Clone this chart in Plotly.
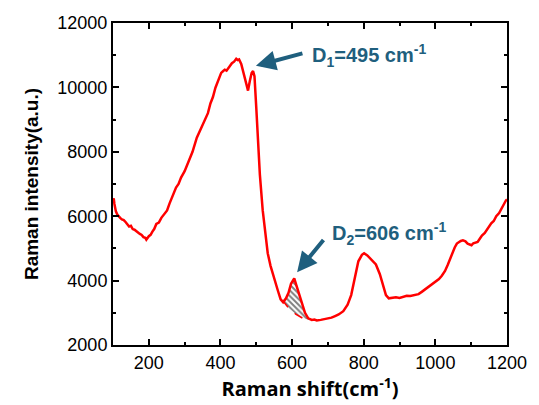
import plotly.graph_objects as go

# Spectrum
shift = [100, 102, 104, 108, 112, 115, 120, 125, 130, 135, 140, 145, 150, 155, 160, 165, 170, 175, 180, 185,
         190, 193, 200, 205, 210, 215, 221, 228, 235, 243, 251, 258, 265, 270, 276, 283, 290, 300, 312, 322,
         334, 345, 358, 365, 372, 379, 386, 394, 402, 407, 412, 417, 422, 427, 432, 438, 444, 448, 452, 458,
         465, 472, 477, 482, 487, 491, 495, 500, 505, 510, 518, 525, 532, 540, 550, 560, 568, 575, 583, 590,
         597, 603, 606, 612, 620, 628, 636, 645, 655, 662, 669, 680, 690, 700, 710, 720, 730, 743, 755, 765,
         775, 785, 795, 801, 810, 820, 834, 845, 855, 862, 870, 880, 890, 900, 910, 920, 930, 942, 953, 962,
         970, 978, 985, 993, 1000, 1010, 1018, 1027, 1035, 1045, 1054, 1060, 1065, 1071, 1077, 1084, 1090, 1096,
         1101, 1106, 1110, 1118, 1124, 1130, 1138, 1145, 1150, 1156, 1163, 1170, 1178, 1185, 1191, 1197, 1200]
intensity = [6500, 6550, 6380, 6150, 6050, 6000, 5950, 5900, 5880, 5820, 5760, 5680, 5700, 5600, 5580, 5530, 5500, 5450, 5420, 5350,
             5330, 5270, 5380, 5420, 5520, 5600, 5760, 5800, 5950, 6050, 6180, 6400, 6600, 6700, 6890, 7000, 7200, 7400, 7730, 8000,
             8440, 8700, 9060, 9200, 9500, 9700, 9990, 10250, 10450, 10500, 10550, 10520, 10600, 10680, 10750, 10800, 10890, 10850, 10870, 10730,
             10400, 10050, 9900, 10200, 10450, 10510, 10350, 9370, 8400, 7300, 6180, 5400, 4850, 4450, 4050, 3700, 3420, 3330, 3450, 3620,
             3900, 4030, 4070, 3850, 3550, 3250, 3000, 2830, 2780, 2790, 2760, 2780, 2800, 2820, 2850, 2900, 2950, 3050, 3250, 3550,
             4100, 4600, 4800, 4850, 4780, 4650, 4500, 4200, 3800, 3550, 3450, 3470, 3480, 3460, 3500, 3530, 3520, 3560, 3580, 3650,
             3720, 3780, 3850, 3900, 3980, 4050, 4150, 4300, 4500, 4800, 5030, 5150, 5200, 5230, 5250, 5220, 5150, 5130,
             5100, 5160, 5180, 5200, 5300, 5400, 5480, 5600, 5680, 5780, 5850, 6000, 6100, 6250, 6350, 6490, 6520]

# D2 hatched band
hump_x = [573, 583, 590, 597, 603, 606, 612, 620, 628, 636, 645, 650]
hump_y = [3390, 3450, 3620, 3900, 4030, 4070, 3850, 3550, 3250, 3000, 2830, 2780]
base_x = [573, 590, 610, 630, 650]
base_y = [3390, 3150, 2960, 2830, 2780]

x_ticks = [200, 400, 600, 800, 1000, 1200]
y_ticks = [2000, 4000, 6000, 8000, 10000, 12000]

RED = "#ff0000"
BLUE = "#1f5f7e"

fig = go.Figure()
fig.add_trace(go.Scatter(x=base_x, y=base_y, mode="lines",
                         line=dict(color=RED, width=1.5, dash="dash"), showlegend=False))
fig.add_trace(go.Scatter(x=hump_x, y=hump_y, mode="lines", line=dict(color=RED, width=0),
                         fill="tonexty", fillcolor="white",
                         fillpattern=dict(shape="\\", fgcolor="black", bgcolor="white", size=4, solidity=0.5),
                         showlegend=False))
fig.add_trace(go.Scatter(x=shift, y=intensity, mode="lines",
                         line=dict(color=RED, width=2.5), showlegend=False))

axis_common = dict(showgrid=False, zeroline=False, showline=True, linecolor="black", linewidth=2,
                   mirror="ticks", ticks="inside", ticklen=6, tickwidth=2, tickcolor="black",
                   tickfont=dict(family="Liberation Sans, Arial", size=18, color="black"))

fig.update_xaxes(range=[100, 1200], tickvals=x_ticks, ticktext=[str(v) for v in x_ticks],
                 minor=dict(ticks="inside", ticklen=3, tickwidth=2, tickcolor="black", dtick=100, tick0=100),
                 title=dict(text="<b>Raman shift(cm<sup>-1</sup>)</b>",
                            font=dict(family="Open Sans, Liberation Sans", size=20, color="black"), standoff=4),
                 **axis_common)
fig.update_yaxes(range=[2000, 12000], tickvals=y_ticks, ticktext=[str(v) for v in y_ticks],
                 minor=dict(ticks="inside", ticklen=3, tickwidth=2, tickcolor="black", dtick=1000, tick0=2000),
                 title=dict(text="<b>Raman intensity(a.u.)</b>",
                            font=dict(family="Liberation Sans, Arial", size=19, color="black"), standoff=14),
                 **axis_common)

fig.add_annotation(x=499, y=10670, ax=633, ay=11070, xref="x", yref="y", axref="x", ayref="y",
                   text="", showarrow=True, arrowhead=2, arrowsize=1, arrowwidth=4, arrowcolor=BLUE, standoff=0)
fig.add_annotation(x=650, y=11000, xref="x", yref="y", xanchor="left", yanchor="middle", showarrow=False,
                   text="<b>D<sub>1</sub>=495 cm<sup>-1</sup></b>",
                   font=dict(family="Liberation Sans, Arial", size=20, color=BLUE))
fig.add_annotation(x=614, y=4260, ax=691, ay=5310, xref="x", yref="y", axref="x", ayref="y",
                   text="", showarrow=True, arrowhead=2, arrowsize=1, arrowwidth=4, arrowcolor=BLUE, standoff=0)
fig.add_annotation(x=705, y=5470, xref="x", yref="y", xanchor="left", yanchor="middle", showarrow=False,
                   text="<b>D<sub>2</sub>=606 cm<sup>-1</sup></b>",
                   font=dict(family="Liberation Sans, Arial", size=20, color=BLUE))

fig.update_layout(width=539, height=405, margin=dict(l=113, r=26, t=23, b=60),
                  paper_bgcolor="white", plot_bgcolor="white")

fig.write_html("out.html")
